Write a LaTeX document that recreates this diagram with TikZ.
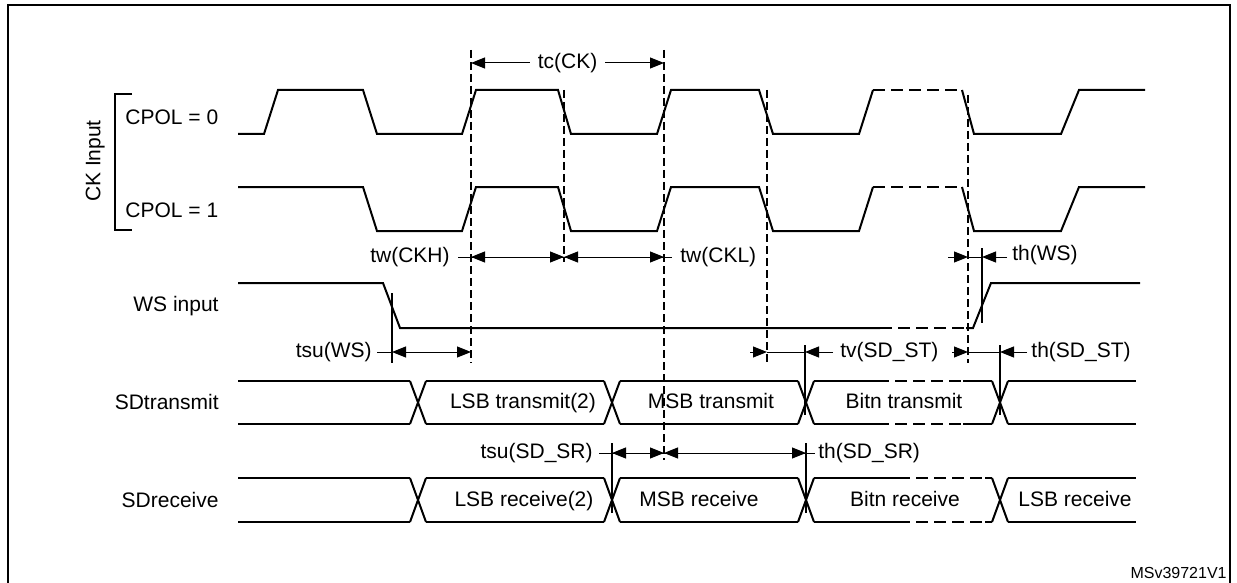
\documentclass[tikz,border=0pt]{standalone}
\usepackage{fontspec}
\setmainfont{Liberation Sans}
\usetikzlibrary{arrows.meta}

\begin{document}
\begin{tikzpicture}[x=0.5pt, y=-0.5pt,
    wave/.style = {line width=1pt},
    gap/.style = {wave, dash pattern=on 6pt off 3pt},
    guide/.style = {line width=0.6pt, dash pattern=on 4pt off 2pt},
    stem/.style = {line width=0.6pt},
    dim/.style = {line width=0.5pt},
    dimto/.style = {dim, -{Triangle[length=7pt, width=5.5pt]}},
    dimboth/.style = {dim, {Triangle[length=7pt, width=5.5pt]}-{Triangle[length=7pt, width=5.5pt]}},
    lbl/.style = {font=\fontsize{10.5}{12}\selectfont, inner sep=0pt}]
  \useasboundingbox (0,0) rectangle (1237,583);
  \draw[line width=1.3pt] (8,583) -- (8,5) -- (1230,5) -- (1230,583);

  \node[lbl, rotate=90, anchor=mid] (ck) at (95,161) {CK Input};
  \node[lbl, anchor=base west] (cp0) at (125,125) {CPOL = 0};
  \node[lbl, anchor=base west] (cp1) at (125,217) {CPOL = 1};
  \draw[wave] (132,94) -- (115,94) -- (115,230) -- (132,230);
  \node[lbl, anchor=base east] (ws) at (219,311) {WS input};
  \node[lbl, anchor=base east] (sdt) at (219,409) {SDtransmit};
  \node[lbl, anchor=base east] (sdr) at (219,507) {SDreceive};

  \draw[wave] (238,134) -- (264,134) -- (278,90) -- (363,90) -- (377,134) -- (462,134) -- (476,90) -- (558,90) -- (571,134) -- (657,134) -- (671,90) -- (759,90) -- (773,134) -- (859,134) -- (873,90);
  \draw[gap] (873,90) -- (962,90);
  \draw[wave] (962,90) -- (974,134) -- (1061,134) -- (1079,90) -- (1145,90);
  \draw[wave] (238,187) -- (363,187) -- (377,231) -- (462,231) -- (476,187) -- (558,187) -- (571,231) -- (657,231) -- (671,187) -- (759,187) -- (773,231) -- (859,231) -- (873,187);
  \draw[gap] (873,187) -- (962,187);
  \draw[wave] (962,187) -- (974,231) -- (1061,231) -- (1079,187) -- (1145,187);

  \draw[wave] (238,283) -- (383,283) -- (400,328) -- (880,328);
  \draw[gap] (880,328) -- (966,328);
  \draw[wave] (966,328) -- (973,328) -- (991,283) -- (1140,283);

  \foreach \y/\z in {381/424, 478/522} {
    \foreach \c in {418,612,806,1000}
      \draw[wave] (\c-8,\y) -- (\c+8,\z) (\c-8,\z) -- (\c+8,\y);
    \foreach \a/\b in {238/410, 426/604, 620/798, 1008/1136}
      \draw[wave] (\a,\y) -- (\b,\y) (\a,\z) -- (\b,\z);
  }
  \foreach \y/\p/\q in {381/877/963, 424/877/963, 478/898/985, 522/898/985} {
    \draw[wave] (814,\y) -- (\p,\y) (\q,\y) -- (992,\y);
    \draw[gap] (\p,\y) -- (\q,\y);
  }
  \node[lbl, anchor=base] (lsbt) at (523,408) {LSB transmit(2)};
  \node[lbl, anchor=base] (msbt) at (711,408) {MSB transmit};
  \node[lbl, anchor=base] (bitt) at (904,408) {Bitn transmit};
  \node[lbl, anchor=base] (lsbr) at (524,506) {LSB receive(2)};
  \node[lbl, anchor=base] (msbr) at (699,506) {MSB receive};
  \node[lbl, anchor=base] (bitr) at (905,506) {Bitn receive};
  \node[lbl, anchor=base] (lsbe) at (1075,506) {LSB receive};

  \foreach \x/\a/\b in {471/50/363, 564/90/262, 664/50/460, 767/90/363, 968/95/363}
    \draw[guide] (\x,\a) -- (\x,\b);
  \foreach \x/\a/\b in {982/248/323, 392/293/363, 805/345/415, 1000/345/415, 612/443/513, 806/443/513}
    \draw[stem] (\x,\a) -- (\x,\b);

  \draw[dimboth] (471,63) -- (664,63) node[midway, lbl, fill=white, inner xsep=4pt, inner ysep=1pt] (tc) {tc(CK)};

  \node[lbl, anchor=east] (twh) at (450,257) {tw(CKH)};
  \node[lbl, anchor=west] (twl) at (680,257) {tw(CKL)};
  \draw[dim] (458,257) -- (672,257);
  \draw[dimboth] (471,257) -- (564,257);
  \draw[dimboth] (564,257) -- (664,257);

  \node[lbl, anchor=west] (thws) at (1012,255) {th(WS)};
  \draw[dimto] (948,257) -- (968,257);
  \draw[dim] (968,257) -- (982,257);
  \draw[dimto] (1007,257) -- (982,257);

  \node[lbl, anchor=east] (tsuws) at (372,352) {tsu(WS)};
  \draw[dim] (377,352) -- (392,352);
  \draw[dimboth] (392,352) -- (471,352);

  \draw[dimto] (750,352) -- (767,352);
  \draw[dim] (767,352) -- (805,352);
  \draw[dimto] (833,352) -- (805,352);
  \node[lbl, anchor=west] (tvst) at (840,352) {tv(SD\_ST)};
  \draw[dimto] (952,352) -- (968,352);
  \draw[dim] (968,352) -- (1000,352);
  \draw[dimto] (1027,352) -- (1000,352);
  \node[lbl, anchor=west] (thst) at (1031,352) {th(SD\_ST)};

  \node[lbl, anchor=east] (tsusr) at (593,453) {tsu(SD\_SR)};
  \draw[dim] (599,453) -- (815,453);
  \draw[dimboth] (612,453) -- (664,453);
  \draw[dimboth] (664,453) -- (806,453);
  \node[lbl, anchor=west] (thsr) at (818,453) {th(SD\_SR)};

  \node[font=\fontsize{8}{10}\selectfont, inner sep=0pt, anchor=base east] (id) at (1227,578) {MSv39721V1};
\end{tikzpicture}
\end{document}
